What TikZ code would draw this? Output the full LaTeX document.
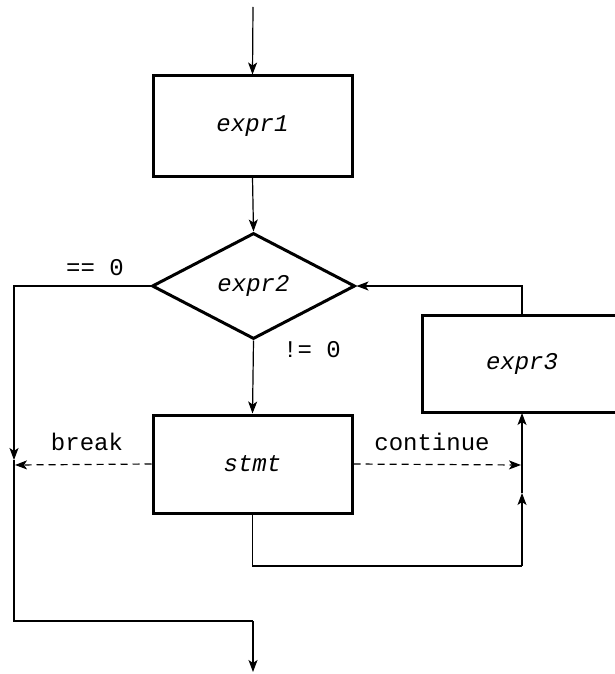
\documentclass[tikz,border=0pt]{standalone}
\usepackage{fontspec}
\newfontfamily\cour{Liberation Mono}
\usetikzlibrary{shapes.geometric,arrows.meta}
\begin{document}
\begin{tikzpicture}[x=1pt,y=-1pt,
  txt/.style={font=\cour\fontsize{24}{28}\selectfont,inner sep=0pt},
  itxt/.style={font=\cour\itshape\fontsize{24}{28}\selectfont},
  box/.style={draw,line width=3pt,inner sep=0pt,itxt},
  dia/.style={draw,diamond,line width=3pt,inner sep=0pt,itxt,minimum width=203pt,minimum height=106pt},
  conn/.style={line width=1.2pt,-{Stealth[length=12pt,width=9pt,inset=3pt]}},
  plain/.style={line width=1.2pt},
  dsh/.style={dash pattern=on 7pt off 5pt}]
\useasboundingbox (0,0) rectangle (615,674);
\clip (0,0) rectangle (615,674);
% nodes
\coordinate (top) at (253,7);
\node[box,minimum width=199pt,minimum height=100pt] (e1) at (252.5,126) {expr1};
\node[dia] (d) at (253.5,286) {expr2};
\node[box,minimum width=199pt,minimum height=98pt] (s) at (252.5,464) {stmt};
\node[box,minimum width=260pt,minimum height=97pt] (e3) at (552,363.5) {\hspace*{-60pt}expr3};
% labels
\node[txt] (leq) at (95,268) {== 0};
\node[txt] (lne) at (312,350) {!= 0};
\node[txt] (lbr) at (87,442) {break};
\node[txt] (lct) at (432,442) {continue};
% helper coordinates
\coordinate (m1) at (14,460);
\coordinate (c2) at (253,621);
\coordinate (bot) at (253,672);
\coordinate (bk) at (15,465);
\coordinate (ct) at (521,465);
\coordinate (c1) at (522,566);
\coordinate (m2) at (522,493);
\coordinate (e3t) at (522,315);
\coordinate (e3b) at (522,413);
% connectors
\draw[conn] (top) -- (e1.north);
\draw[conn] (e1.south) -- (d.north);
\draw[conn] (d.south) -- (s.north);
\draw[conn] (d.west) -| (m1);
\draw[plain] (m1) |- (c2);
\draw[conn] (c2) -- (bot);
\draw[conn,dsh] (s.west) -- (bk);
\draw[conn,dsh] (s.east) -- (ct);
\draw[plain] (s.south) |- (c1);
\draw[conn] (c1) -- (m2);
\draw[conn] (m2) -- (e3b);
\draw[conn] (e3t) |- (d.east);
\end{tikzpicture}
\end{document}
